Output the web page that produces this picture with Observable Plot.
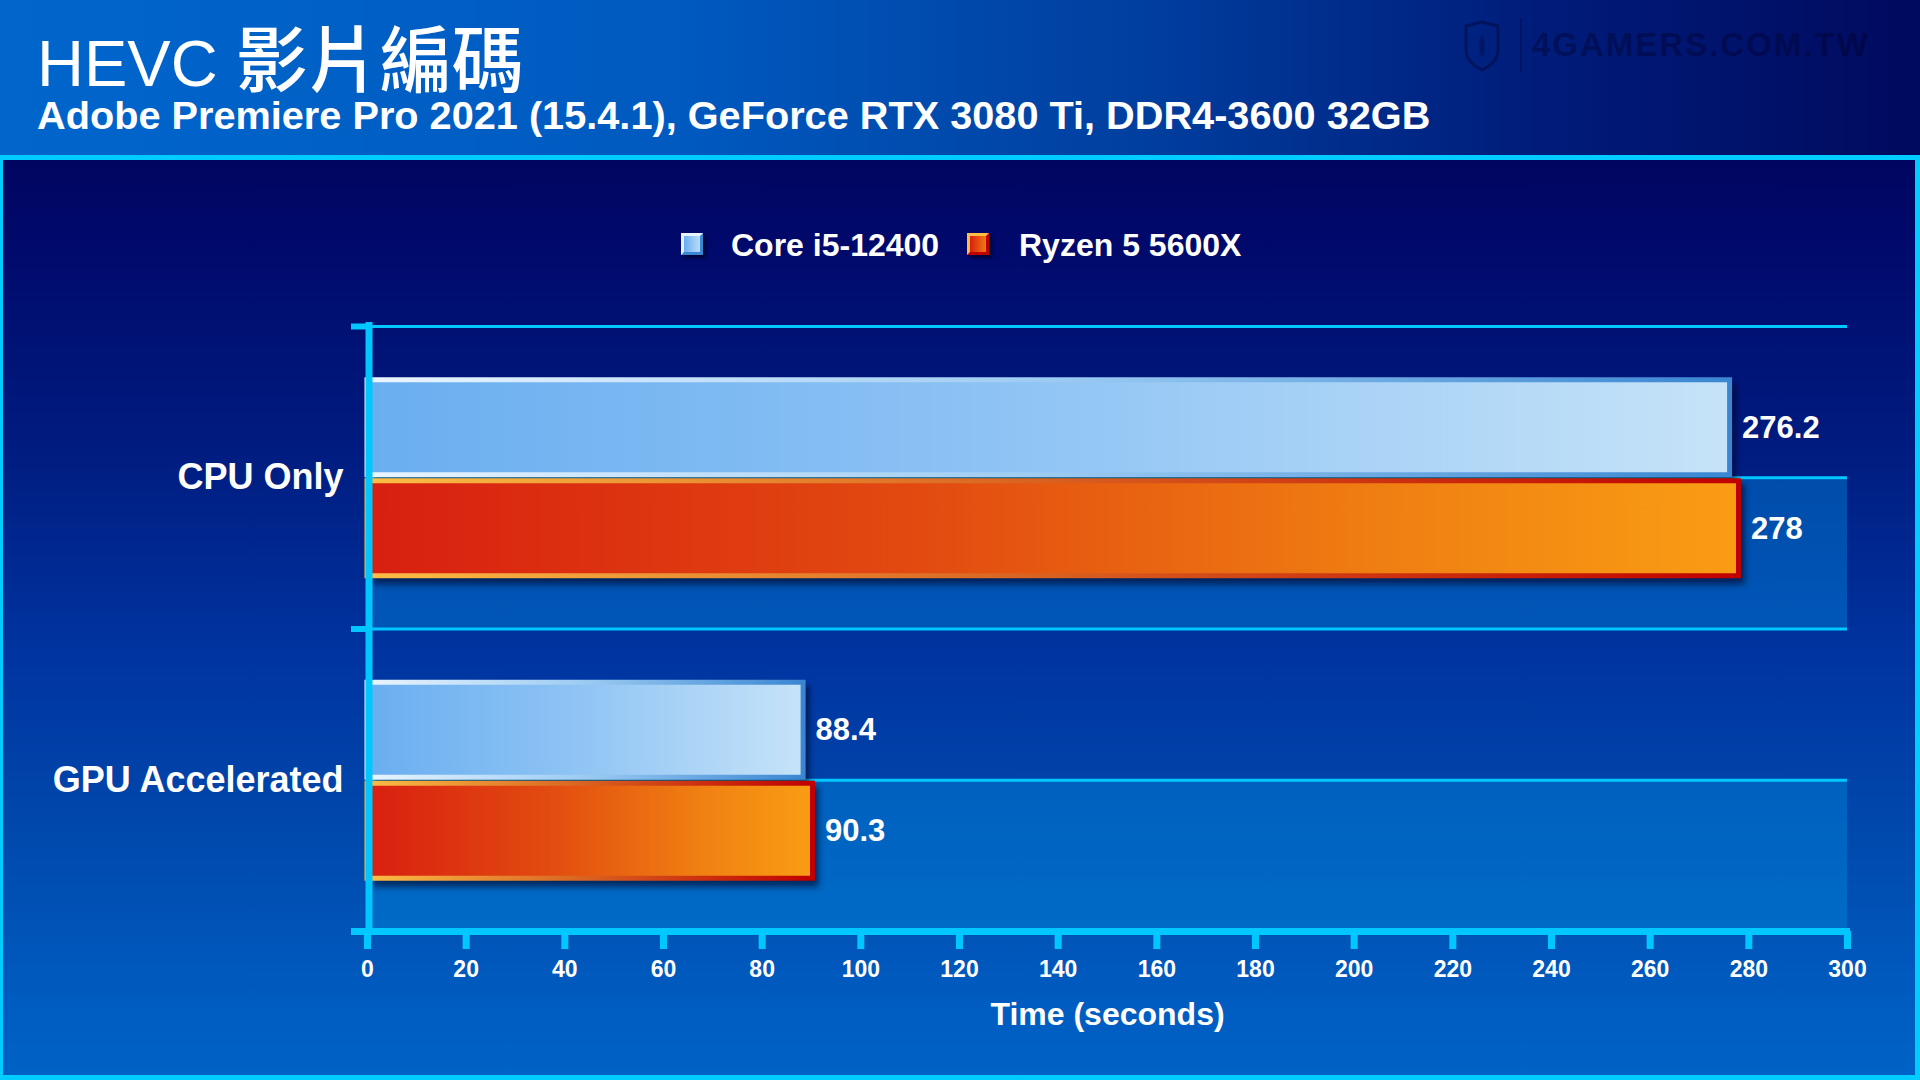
<!DOCTYPE html>
<html><head><meta charset="utf-8">
<script src="https://cdn.jsdelivr.net/npm/d3@7"></script>
<script src="https://cdn.jsdelivr.net/npm/@observablehq/plot@0.6"></script>
<style>
html,body{margin:0;padding:0;}
body{width:1920px;height:1080px;position:relative;overflow:hidden;font-family:"Liberation Sans",Arial,"Noto Sans CJK TC",sans-serif;background:#000a60;}
#header{position:absolute;left:0;top:0;width:1920px;height:155px;background:linear-gradient(90deg,#0066cc 0%,#005ac0 35%,#003e9e 60%,#001c7a 80%,#000a5e 100%);}
#sep{position:absolute;left:0;top:155px;width:1920px;height:5px;background:#00ccff;}
#panel{position:absolute;left:0;top:160px;width:1912px;height:915px;border-left:3px solid #00ccff;border-right:5px solid #00ccff;border-bottom:5px solid #00ccff;
  background:linear-gradient(180deg,#000560 0%,#000a6c 10%,#001c80 32%,#0034a0 54%,#0048ac 73%,#005cc0 92%,#0062c6 100%);}
.t{position:absolute;color:#fff;white-space:nowrap;line-height:1;}
#title{left:37px;top:19px;font-size:65px;height:70px;overflow:visible;}
#title .cjk{font-family:"Noto Sans CJK TC",sans-serif;font-weight:500;font-size:72px;line-height:1;display:inline-block;height:66px;overflow:visible;}
#subtitle{left:37px;top:96px;font-size:39.7px;font-weight:bold;}
.mk{position:absolute;top:233px;width:22px;height:22px;box-sizing:border-box;border:3px solid;box-shadow:3px 3px 3px rgba(0,0,20,.6);}
#mk1{left:681px;background:linear-gradient(90deg,#6aaef0,#b8dcf8);border-color:#e6f3ff #3a86d2 #3a86d2 #e6f3ff;}
#mk2{left:967px;background:linear-gradient(90deg,#d81f10,#f07a12);border-color:#fbbd45 #c00000 #c00000 #fbbd45;}
.lg{top:229px;font-size:32px;font-weight:bold;}
#wm{position:absolute;left:1532px;top:28px;font-size:33px;font-weight:bold;letter-spacing:2px;color:rgba(0,0,40,.38);line-height:1;}
#wmline{position:absolute;left:1520px;top:18px;width:2px;height:54px;background:rgba(0,0,40,.3);}
#shield{position:absolute;left:1462px;top:20px;}
#chart{position:absolute;left:0;top:0;}
g[fill="#00001e"]{filter:blur(3px);}
</style>
</head><body>
<div id="header"></div>
<div id="sep"></div>
<div id="panel"></div>
<svg id="shield" width="40" height="52" viewBox="0 0 40 52"><path d="M4 6 L20 2 L36 6 L36 30 Q36 42 20 50 Q4 42 4 30 Z" fill="none" stroke="rgba(0,0,40,.38)" stroke-width="3"/><path d="M20 14 Q14 26 20 38 Q26 28 20 14Z" fill="rgba(0,0,40,.3)"/></svg>
<div id="wmline"></div>
<div id="wm">4GAMERS.COM.TW</div>
<div class="t" id="title">HEVC <span class="cjk">影片編碼</span></div>
<div class="t" id="subtitle">Adobe Premiere Pro 2021 (15.4.1), GeForce RTX 3080 Ti, DDR4-3600 32GB</div>
<div class="mk" id="mk1"></div><div class="t lg" style="left:731px">Core i5-12400</div>
<div class="mk" id="mk2"></div><div class="t lg" style="left:1019px">Ryzen 5 5600X</div>
<div id="chart"></div>
<script>
// ---- data ----
const categories = ["CPU Only", "GPU Accelerated"];
const seriesNames = ["Core i5-12400", "Ryzen 5 5600X"];
const coreValues = [276.2, 88.4];
const ryzenValues = [278, 90.3];
const xTicks = [0, 20, 40, 60, 80, 100, 120, 140, 160, 180, 200, 220, 240, 260, 280, 300];
const xLabel = "Time (seconds)";

// ---- layout ----
const W = 1920, H = 1080, mT = 326, mB = 149, mL = 367, mR = 73;
const bw = (H - mT - mB) / categories.length;
const barH = 100, sw = 5;
const cyan = "#00c8ff";
const font = '"Liberation Sans", Arial, sans-serif';

const seriesValues = [coreValues, ryzenValues];
const rows = seriesNames.map((s, si) => categories.map((c, ci) => ({category: c, series: s, value: seriesValues[si][ci]})));

const styles = [
  {fill: "url(#blueFill)", stroke: "url(#blueStroke)", insetTop: bw / 2 - barH + sw / 2, insetBottom: bw / 2 + sw / 2, dy: -barH / 2},
  {fill: "url(#redFill)", stroke: "url(#redStroke)", insetTop: bw / 2 + 1 + sw / 2, insetBottom: bw / 2 - barH - 1 + sw / 2, dy: barH / 2 + 1}
];

function defs() {
  const d = d3.create("svg:defs");
  const grad = (id, stops) => {
    const g = d.append("linearGradient").attr("id", id).attr("x1", 0).attr("x2", 1).attr("y1", 0).attr("y2", 0);
    stops.forEach(([o, c]) => g.append("stop").attr("offset", o).attr("stop-color", c));
  };
  grad("blueFill", [[0, "#6aaef0"], [0.45, "#8cc2f4"], [1, "#c6e3f8"]]);
  grad("blueStroke", [[0, "#eaf5ff"], [0.5, "#9ccbf2"], [1, "#3a86d2"]]);
  grad("redFill", [[0, "#d81f10"], [0.4, "#e24a10"], [0.75, "#f08012"], [1, "#f99d14"]]);
  grad("redStroke", [[0, "#fbbd45"], [0.5, "#d86020"], [1, "#c00000"]]);
  return d.node();
}

const marks = [
  defs,
  // lighter lower half of each category band
  Plot.barX(categories, {y: d => d, x1: xTicks[0], x2: xTicks[xTicks.length - 1], insetTop: bw / 2, fill: "#0088dc", fillOpacity: 0.43}),
  // gridlines: band boundaries and band centres
  Plot.ruleY(categories, {y: d => d, dy: -bw / 2, stroke: cyan, strokeWidth: 3}),
  Plot.ruleY(categories, {y: d => d, stroke: cyan, strokeWidth: 3}),
  // y-axis ticks at band boundaries
  Plot.ruleY(categories, {y: d => d, dy: -bw / 2, x1: 0, x2: 0, insetLeft: -16, stroke: cyan, strokeWidth: 6}),
];
rows.forEach((data, si) => {
  const st = styles[si];
  marks.push(Plot.barX(data, {x: "value", y: "category", insetTop: st.insetTop - sw / 2, insetBottom: st.insetBottom - sw / 2, fill: "#00001e", fillOpacity: 0.6, dx: 6, dy: 6}));
});
rows.forEach((data, si) => {
  const st = styles[si];
  marks.push(Plot.barX(data, {x: "value", y: "category", insetTop: st.insetTop, insetBottom: st.insetBottom, fill: st.fill, stroke: st.stroke, strokeWidth: sw}));
  marks.push(Plot.text(data, {x: "value", y: "category", text: d => String(d.value), dx: 12, dy: st.dy, textAnchor: "start", fill: "white", fontSize: 31, fontWeight: "bold"}));
});
marks.push(
  // axis lines
  Plot.ruleX([0], {insetTop: -4, insetBottom: -3, dx: 1.5, stroke: cyan, strokeWidth: 7}),
  Plot.ruleY([categories[categories.length - 1]], {y: d => d, dy: bw / 2, insetLeft: -16, insetRight: -3, stroke: cyan, strokeWidth: 7}),
  Plot.axisX({ticks: xTicks, tickSize: 18, tickPadding: 11, stroke: cyan, strokeWidth: 7, fill: "white", fontSize: 23, fontWeight: "bold", label: null}),
  Plot.axisY({tickSize: 0, tickPadding: 24, fontSize: 36, fontWeight: "bold", fill: "white", label: null}),
  Plot.text([xLabel], {text: d => d, frameAnchor: "bottom", dy: 83, lineAnchor: "middle", fontSize: 32, fontWeight: "bold", fill: "white"})
);

const chart = Plot.plot({
  width: W, height: H,
  marginTop: mT, marginBottom: mB, marginLeft: mL, marginRight: mR,
  x: {domain: [xTicks[0], xTicks[xTicks.length - 1]]},
  y: {domain: categories, padding: 0, round: false},
  style: {background: "transparent", color: "white", fontFamily: font, overflow: "visible"},
  marks
});
document.getElementById("chart").appendChild(chart);
</script>
</body></html>
